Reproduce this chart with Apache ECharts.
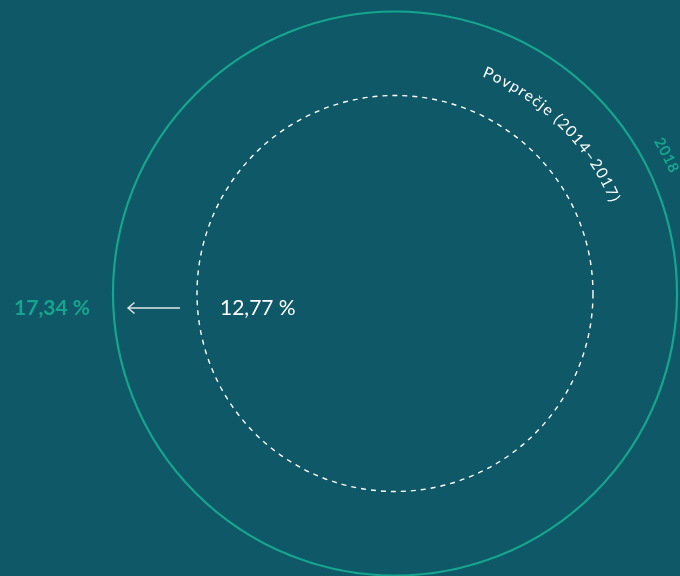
<!DOCTYPE html>
<html><head><meta charset="utf-8">
<script src="https://cdn.jsdelivr.net/npm/echarts@6/dist/echarts.min.js"></script>
<style>html,body{margin:0;padding:0;background:#0f5868;} #main{width:680px;height:576px;}</style>
</head><body><div id="main"></div>
<script>
// ---- data ----
const categories = ['Povprečje (2014–2017)', '2018'];
const values = [12.77, 17.34];
const valueLabels = ['12,77 %', '17,34 %'];

// ---- styles ----
const BG = '#0f5868';
const TEAL = '#16a58e';
const WHITE = '#ffffff';
const FAMILY = 'Lato, "Open Sans", sans-serif';

const measureCtx = document.createElement('canvas').getContext('2d');
function arcText(text, cx, cy, R, centerDeg, color, fontSize, fontWeight, spacing) {
  measureCtx.font = fontWeight + ' ' + fontSize + 'px ' + FAMILY;
  const chars = Array.from(text);
  const widths = chars.map(ch => measureCtx.measureText(ch).width + spacing);
  const total = widths.reduce((a, b) => a + b, 0) - spacing;
  let cur = centerDeg * Math.PI / 180 - total / (2 * R);
  return chars.map((ch, i) => {
    const w = widths[i] - spacing;
    const a = cur + w / (2 * R);
    cur += widths[i] / R;
    return {
      type: 'text', x: cx + R * Math.sin(a), y: cy - R * Math.cos(a), rotation: -a,
      style: { text: ch, fill: color, fontSize: fontSize, fontWeight: fontWeight, fontFamily: FAMILY,
               align: 'center', verticalAlign: 'middle' }
    };
  });
}

function renderItem(params, api) {
  const i = params.dataIndex;
  const cs = params.coordSys;
  const cx = cs.cx, cy = cs.cy;
  const radiusOf = v => { const p = api.coord([v, 0]); return Math.hypot(p[0] - cx, p[1] - cy); };
  const r = radiusOf(api.value(0));
  const children = [];
  if (i === 0) {
    children.push({ type: 'circle', shape: { cx: cx, cy: cy, r: r },
      style: { fill: 'none', stroke: WHITE, lineWidth: 1.4, lineDash: [5, 5] } });
    children.push({ type: 'text', x: cx - r + 23, y: cy + 15,
      style: { text: valueLabels[i], fill: WHITE, fontSize: 21, fontFamily: FAMILY,
               align: 'left', verticalAlign: 'middle' } });
    children.push(...arcText(categories[i], cx, cy, r + 41, 44.5, WHITE, 15.5, 'normal', 1.4));
  } else {
    const rIn = radiusOf(values[0]);
    children.push({ type: 'circle', shape: { cx: cx, cy: cy, r: r },
      style: { fill: 'none', stroke: TEAL, lineWidth: 2.2 } });
    children.push({ type: 'text', x: cx - r - 23, y: cy + 15,
      style: { text: valueLabels[i], fill: TEAL, fontSize: 21, fontWeight: 'bold', fontFamily: FAMILY,
               align: 'right', verticalAlign: 'middle' } });
    const ay = cy + 14.5;
    const tipX = cx - r + 15, tailX = cx - rIn - 17;
    children.push({ type: 'line', shape: { x1: tailX, y1: ay, x2: tipX, y2: ay },
      style: { stroke: '#e6e6e6', lineWidth: 1.4 } });
    children.push({ type: 'polyline', shape: { points: [[tipX + 6.5, ay - 5.5], [tipX, ay], [tipX + 6.5, ay + 5.5]] },
      style: { fill: 'none', stroke: '#e6e6e6', lineWidth: 1.4 } });
    children.push(...arcText(categories[i], cx, cy, r + 23, 63, TEAL, 15, 'bold', 0.6));
  }
  return { type: 'group', children: children };
}

const chart = echarts.init(document.getElementById('main'), null, { renderer: 'canvas' });
chart.setOption({
  backgroundColor: BG,
  animation: false,
  polar: { center: [395, 293.5], radius: 282 },
  radiusAxis: { type: 'value', min: 2, max: 17.34, show: false },
  angleAxis: { type: 'value', min: 0, max: 360, show: false },
  series: [{
    type: 'custom',
    coordinateSystem: 'polar',
    clip: false,
    silent: true,
    renderItem: renderItem,
    data: values.map(v => [v, 0])
  }]
});
</script>
</body></html>
